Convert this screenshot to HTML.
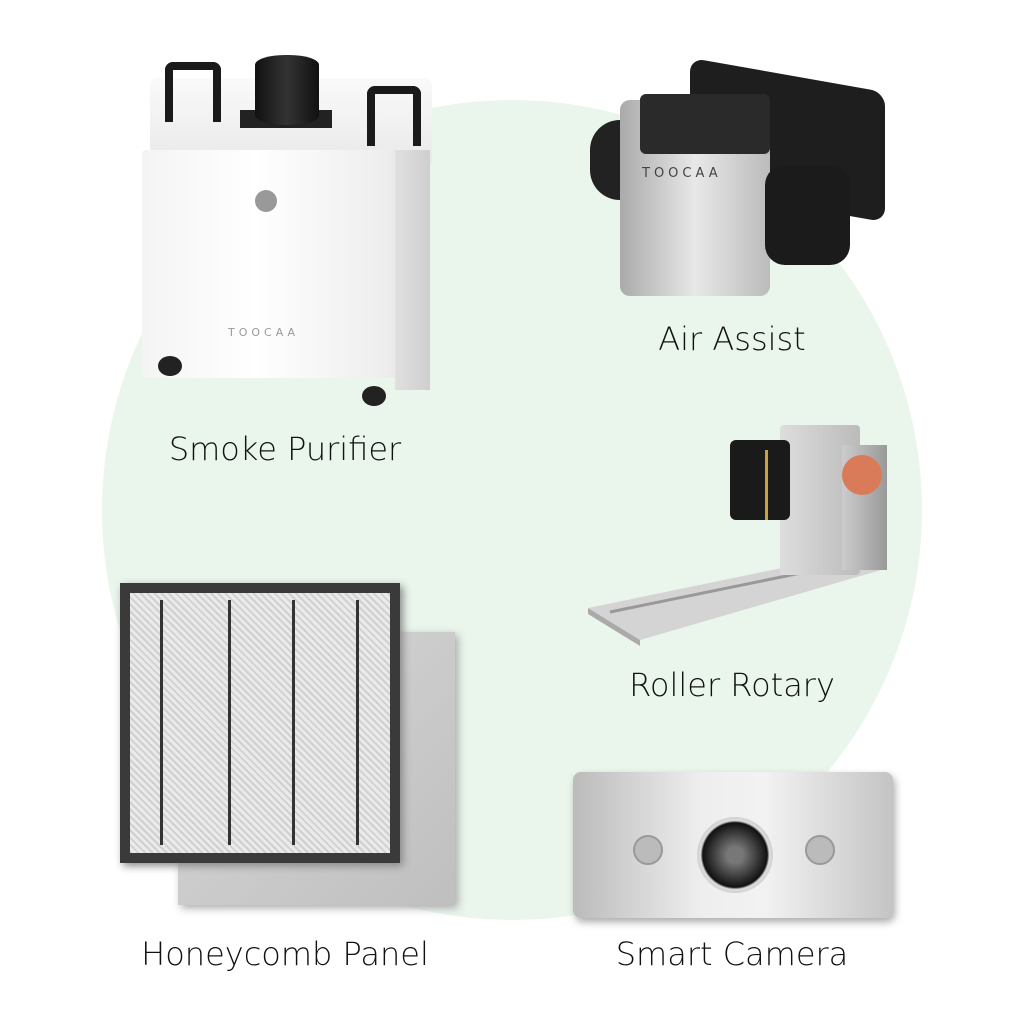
<!DOCTYPE html>
<html><head><meta charset="utf-8"><style>
body{margin:0;width:1024px;height:1024px;background:#fff;position:relative;overflow:hidden;font-family:"DejaVu Sans","Liberation Sans",sans-serif}
.a{position:absolute}
.lbl{position:absolute;font-size:32px;color:#111;text-align:center;width:400px;font-weight:300}
</style></head><body>
<div class="a" style="left:102px;top:100px;width:820px;height:820px;border-radius:50%;background:#eaf6ec"></div>

<!-- Smoke purifier -->
<div class="a" style="left:150px;top:78px;width:282px;height:90px;background:linear-gradient(#fafafa,#e8e8e8);border-radius:8px"></div>
<div class="a" style="left:142px;top:150px;width:284px;height:228px;background:linear-gradient(90deg,#f4f4f4,#fff 40%,#eee 85%,#ddd);border-radius:4px"></div>
<div class="a" style="left:395px;top:150px;width:35px;height:240px;background:linear-gradient(90deg,#e0e0e0,#cfcfcf)"></div>
<div class="a" style="left:165px;top:62px;width:40px;height:52px;border:8px solid #1a1a1a;border-bottom:none;border-radius:8px 8px 0 0"></div>
<div class="a" style="left:367px;top:86px;width:38px;height:52px;border:8px solid #1a1a1a;border-bottom:none;border-radius:8px 8px 0 0"></div>
<div class="a" style="left:240px;top:110px;width:92px;height:18px;background:#222"></div>
<div class="a" style="left:255px;top:55px;width:64px;height:70px;background:linear-gradient(90deg,#111,#333,#111);border-radius:30px/10px"></div>
<div class="a" style="left:255px;top:190px;width:22px;height:22px;border-radius:50%;background:#999"></div>
<div class="a" style="left:228px;top:326px;font-size:11px;letter-spacing:4px;color:#999">TOOCAA</div>
<div class="a" style="left:158px;top:356px;width:24px;height:20px;border-radius:50%;background:#222"></div>
<div class="a" style="left:362px;top:386px;width:24px;height:20px;border-radius:50%;background:#222"></div>
<div class="lbl" style="left:85px;top:430px">Smoke Purifier</div>

<!-- Air assist -->
<div class="a" style="left:690px;top:75px;width:195px;height:130px;background:#1e1e1e;border-radius:14px;transform:skewY(10deg)"></div>
<div class="a" style="left:590px;top:120px;width:110px;height:80px;background:#222;border-radius:30px"></div>
<div class="a" style="left:620px;top:100px;width:150px;height:196px;background:linear-gradient(90deg,#aaa,#e8e8e8 50%,#bbb);border-radius:10px"></div>
<div class="a" style="left:640px;top:94px;width:130px;height:60px;background:#2a2a2a;border-radius:6px"></div>
<div class="a" style="left:642px;top:166px;font-size:13px;letter-spacing:4px;color:#444">TOOCAA</div>
<div class="a" style="left:765px;top:165px;width:85px;height:100px;background:#1b1b1b;border-radius:20px"></div>
<div class="lbl" style="left:532px;top:320px">Air Assist</div>

<!-- Rotary -->
<svg class="a" style="left:0;top:0" width="1024" height="1024">
<polygon points="588,608 845,555 888,568 640,640" fill="#d4d4d4"/>
<polygon points="588,608 640,640 640,646 588,614" fill="#aaa"/>
<line x1="610" y1="612" x2="840" y2="565" stroke="#999" stroke-width="3"/>
</svg>
<div class="a" style="left:780px;top:425px;width:80px;height:150px;background:linear-gradient(90deg,#ddd,#bbb);border-radius:4px"></div>
<div class="a" style="left:842px;top:445px;width:45px;height:125px;background:linear-gradient(90deg,#ccc,#999)"></div>
<div class="a" style="left:842px;top:455px;width:40px;height:40px;border-radius:50%;background:#d97a58"></div>
<div class="a" style="left:730px;top:440px;width:60px;height:80px;background:#1a1a1a;border-radius:6px"></div>
<div class="a" style="left:765px;top:450px;width:3px;height:70px;background:#c9a23a"></div>
<div class="lbl" style="left:532px;top:666px">Roller Rotary</div>

<!-- Honeycomb -->
<div class="a" style="left:178px;top:632px;width:277px;height:273px;background:linear-gradient(135deg,#d8d8d8,#bfbfbf);box-shadow:3px 3px 8px #aaa"></div>
<div class="a" style="left:120px;top:583px;width:280px;height:280px;background:#3a3a3a;box-shadow:3px 3px 8px #888"></div>
<div class="a" style="left:130px;top:593px;width:260px;height:260px;background:repeating-linear-gradient(45deg,#d0d0d0 0 2px,#eaeaea 2px 5px);"></div>
<div class="a" style="left:160px;top:600px;width:3px;height:245px;background:#333"></div>
<div class="a" style="left:228px;top:600px;width:3px;height:245px;background:#333"></div>
<div class="a" style="left:292px;top:600px;width:3px;height:245px;background:#333"></div>
<div class="a" style="left:356px;top:600px;width:3px;height:245px;background:#333"></div>
<div class="lbl" style="left:85px;top:935px">Honeycomb Panel</div>

<!-- Camera -->
<div class="a" style="left:573px;top:772px;width:320px;height:146px;background:linear-gradient(90deg,#bbb,#eee 40%,#f2f2f2 60%,#c4c4c4);border-radius:8px;box-shadow:2px 4px 8px #aaa"></div>
<div class="a" style="left:697px;top:817px;width:76px;height:76px;border-radius:50%;background:radial-gradient(#777 15%,#333 45%,#111 60%,#ddd 64%,#999)"></div>
<div class="a" style="left:633px;top:835px;width:26px;height:26px;border-radius:50%;background:#bbb;border:2px solid #999"></div>
<div class="a" style="left:805px;top:835px;width:26px;height:26px;border-radius:50%;background:#bbb;border:2px solid #999"></div>
<div class="lbl" style="left:532px;top:935px">Smart Camera</div>
</body></html>
